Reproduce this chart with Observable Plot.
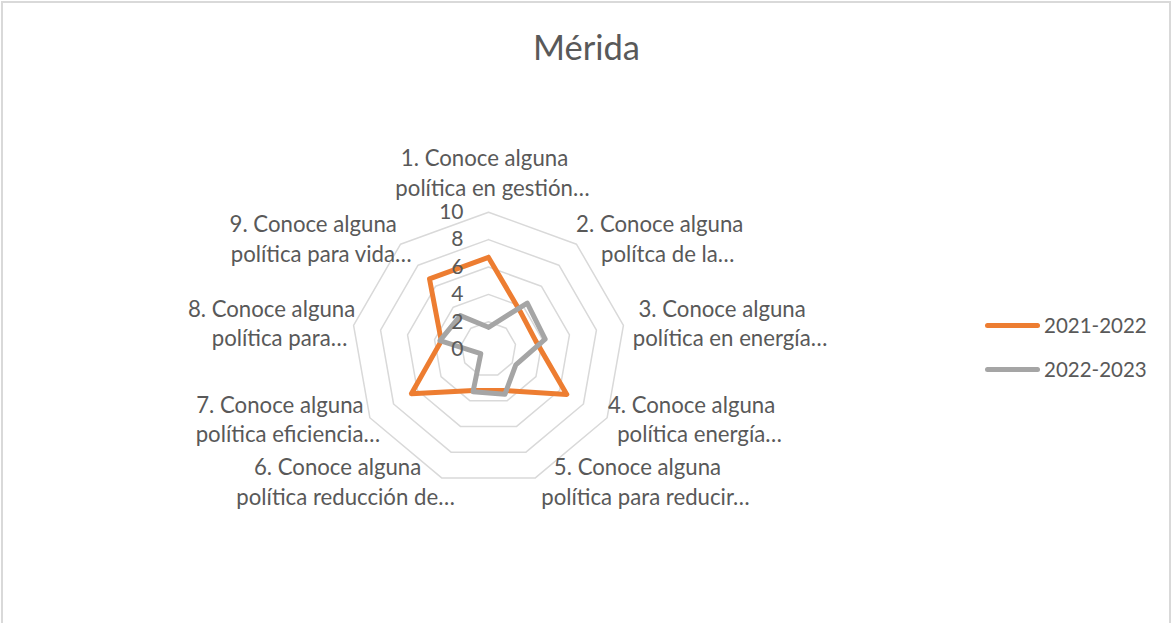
<!DOCTYPE html>
<html>
<head>
<meta charset="utf-8">
<script src="https://cdn.jsdelivr.net/npm/d3@7"></script>
<script src="https://cdn.jsdelivr.net/npm/@observablehq/plot@0.6"></script>
<style>
html, body { margin: 0; padding: 0; background: #fff; overflow: hidden; }
#wrap { position: relative; width: 1173px; height: 623px; font-family: Lato, "Open Sans", sans-serif; color: #595959; }
#border { position: absolute; left: 1px; top: 1px; width: 1170px; height: 700px; border: 2px solid #d9d9d9; box-sizing: border-box; }
#chart { position: absolute; left: 0; top: 0; }
#title { position: absolute; left: 0; width: 1173px; top: 26px; text-align: center; font-size: 34.5px; line-height: 1.2; }
#legend { position: absolute; left: 985px; top: 303px; }
.item { display: flex; align-items: center; height: 44px; font-size: 20.5px; }
.swatch { width: 55px; height: 5px; border-radius: 3px; margin-right: 4px; }
</style>
</head>
<body>
<div id="wrap">
  <div id="border"></div>
  <div id="chart"></div>
  <div id="title">Mérida</div>
  <div id="legend"></div>
</div>
<script>
// ---- data ----
const categories = [
  "1. Conoce alguna\npolítica en gestión…",
  "2. Conoce alguna\npolítca de la…",
  "3. Conoce alguna\npolítica en energía…",
  "4. Conoce alguna\npolítica energía…",
  "5. Conoce alguna\npolítica para reducir…",
  "6. Conoce alguna\npolítica reducción de…",
  "7. Conoce alguna\npolítica eficiencia…",
  "8. Conoce alguna\npolítica para…",
  "9. Conoce alguna\npolítica para vida…"
];
const seriesNames = ["2021-2022", "2022-2023"];
const values2021 = [6.7, 3.6, 3.5, 6.6, 3.2, 3.2, 6.5, 3.5, 6.7];
const values2022 = [1.6, 4.4, 4.2, 2.3, 3.5, 3.3, 0.65, 3.6, 3.2];
const ringLevels = [2, 4, 6, 8, 10];
const tickLabels = [0, 2, 4, 6, 8, 10];
const seriesColors = ["#ED7D31", "#A5A5A5"];

// ---- layout ----
const W = 1173, H = 623;
const cx = 488, cy = 348.7, unit = 13.7; // pixels per value unit
const n = categories.length;
const ang = i => 2 * Math.PI * i / n;
const X = (r, i) => r * Math.sin(ang(i));
const Y = (r, i) => r * Math.cos(ang(i));

// rings
const rings = [];
for (const lv of ringLevels) {
  for (let k = 0; k <= n; k++) rings.push({lv, x: X(lv, k % n), y: Y(lv, k % n)});
}

// series polygons (closed)
const seriesData = [];
[values2021, values2022].forEach((vals, s) => {
  for (let k = 0; k <= n; k++) {
    const i = k % n;
    seriesData.push({series: seriesNames[s], x: X(vals[i], i), y: Y(vals[i], i)});
  }
});

// category labels
const catFont = 22.2;
const lineGap = 14.7;
const ctx = document.createElement("canvas").getContext("2d");
ctx.font = `${catFont}px Lato`;
const labelData = categories.map((c, i) => {
  const s = Math.sin(ang(i));
  const lines = c.split("\n");
  const w = Math.max(...lines.map(l => ctx.measureText(l).width));
  const r = 10.4;
  let x = X(r, i), y = Y(r, i);
  if (s > 0.1) x += (w / 2) / unit;
  else if (s < -0.1) x -= (w / 2 - 11) / unit;
  else y += 33 / unit;
  return {l1: lines[0], l2: lines[1], x, y};
});

const chart = Plot.plot({
  width: W,
  height: H,
  margin: 0,
  x: {domain: [-cx / unit, (W - cx) / unit], axis: null},
  y: {domain: [-(H - cy) / unit, cy / unit], axis: null},
  color: {domain: seriesNames, range: seriesColors},
  style: {background: "transparent", fontFamily: "Lato, 'Open Sans', sans-serif"},
  marks: [
    Plot.line(rings, {x: "x", y: "y", z: "lv", stroke: "#d9d9d9", strokeWidth: 1.5, curve: "linear"}),
    Plot.line(seriesData, {x: "x", y: "y", z: "series", stroke: "series", strokeWidth: 5, strokeLinejoin: "round", strokeLinecap: "round"}),
    Plot.text(tickLabels, {x: () => 0, y: d => d, text: d => String(d), textAnchor: "end", dx: -25, fontSize: 21, fill: "#595959"}),
    Plot.text(labelData, {x: "x", y: "y", text: "l1", textAnchor: "middle", lineAnchor: "middle", dx: -4, dy: -lineGap, fontSize: catFont, fill: "#595959"}),
    Plot.text(labelData, {x: "x", y: "y", text: "l2", textAnchor: "middle", lineAnchor: "middle", dx: 4, dy: lineGap, fontSize: catFont, fill: "#595959"})
  ]
});
document.getElementById("chart").appendChild(chart);

// legend
const legend = document.getElementById("legend");
seriesNames.forEach((name, i) => {
  const item = document.createElement("div");
  item.className = "item";
  const sw = document.createElement("div");
  sw.className = "swatch";
  sw.style.background = seriesColors[i];
  const t = document.createElement("span");
  t.textContent = name;
  item.appendChild(sw);
  item.appendChild(t);
  legend.appendChild(item);
});
</script>
</body>
</html>
